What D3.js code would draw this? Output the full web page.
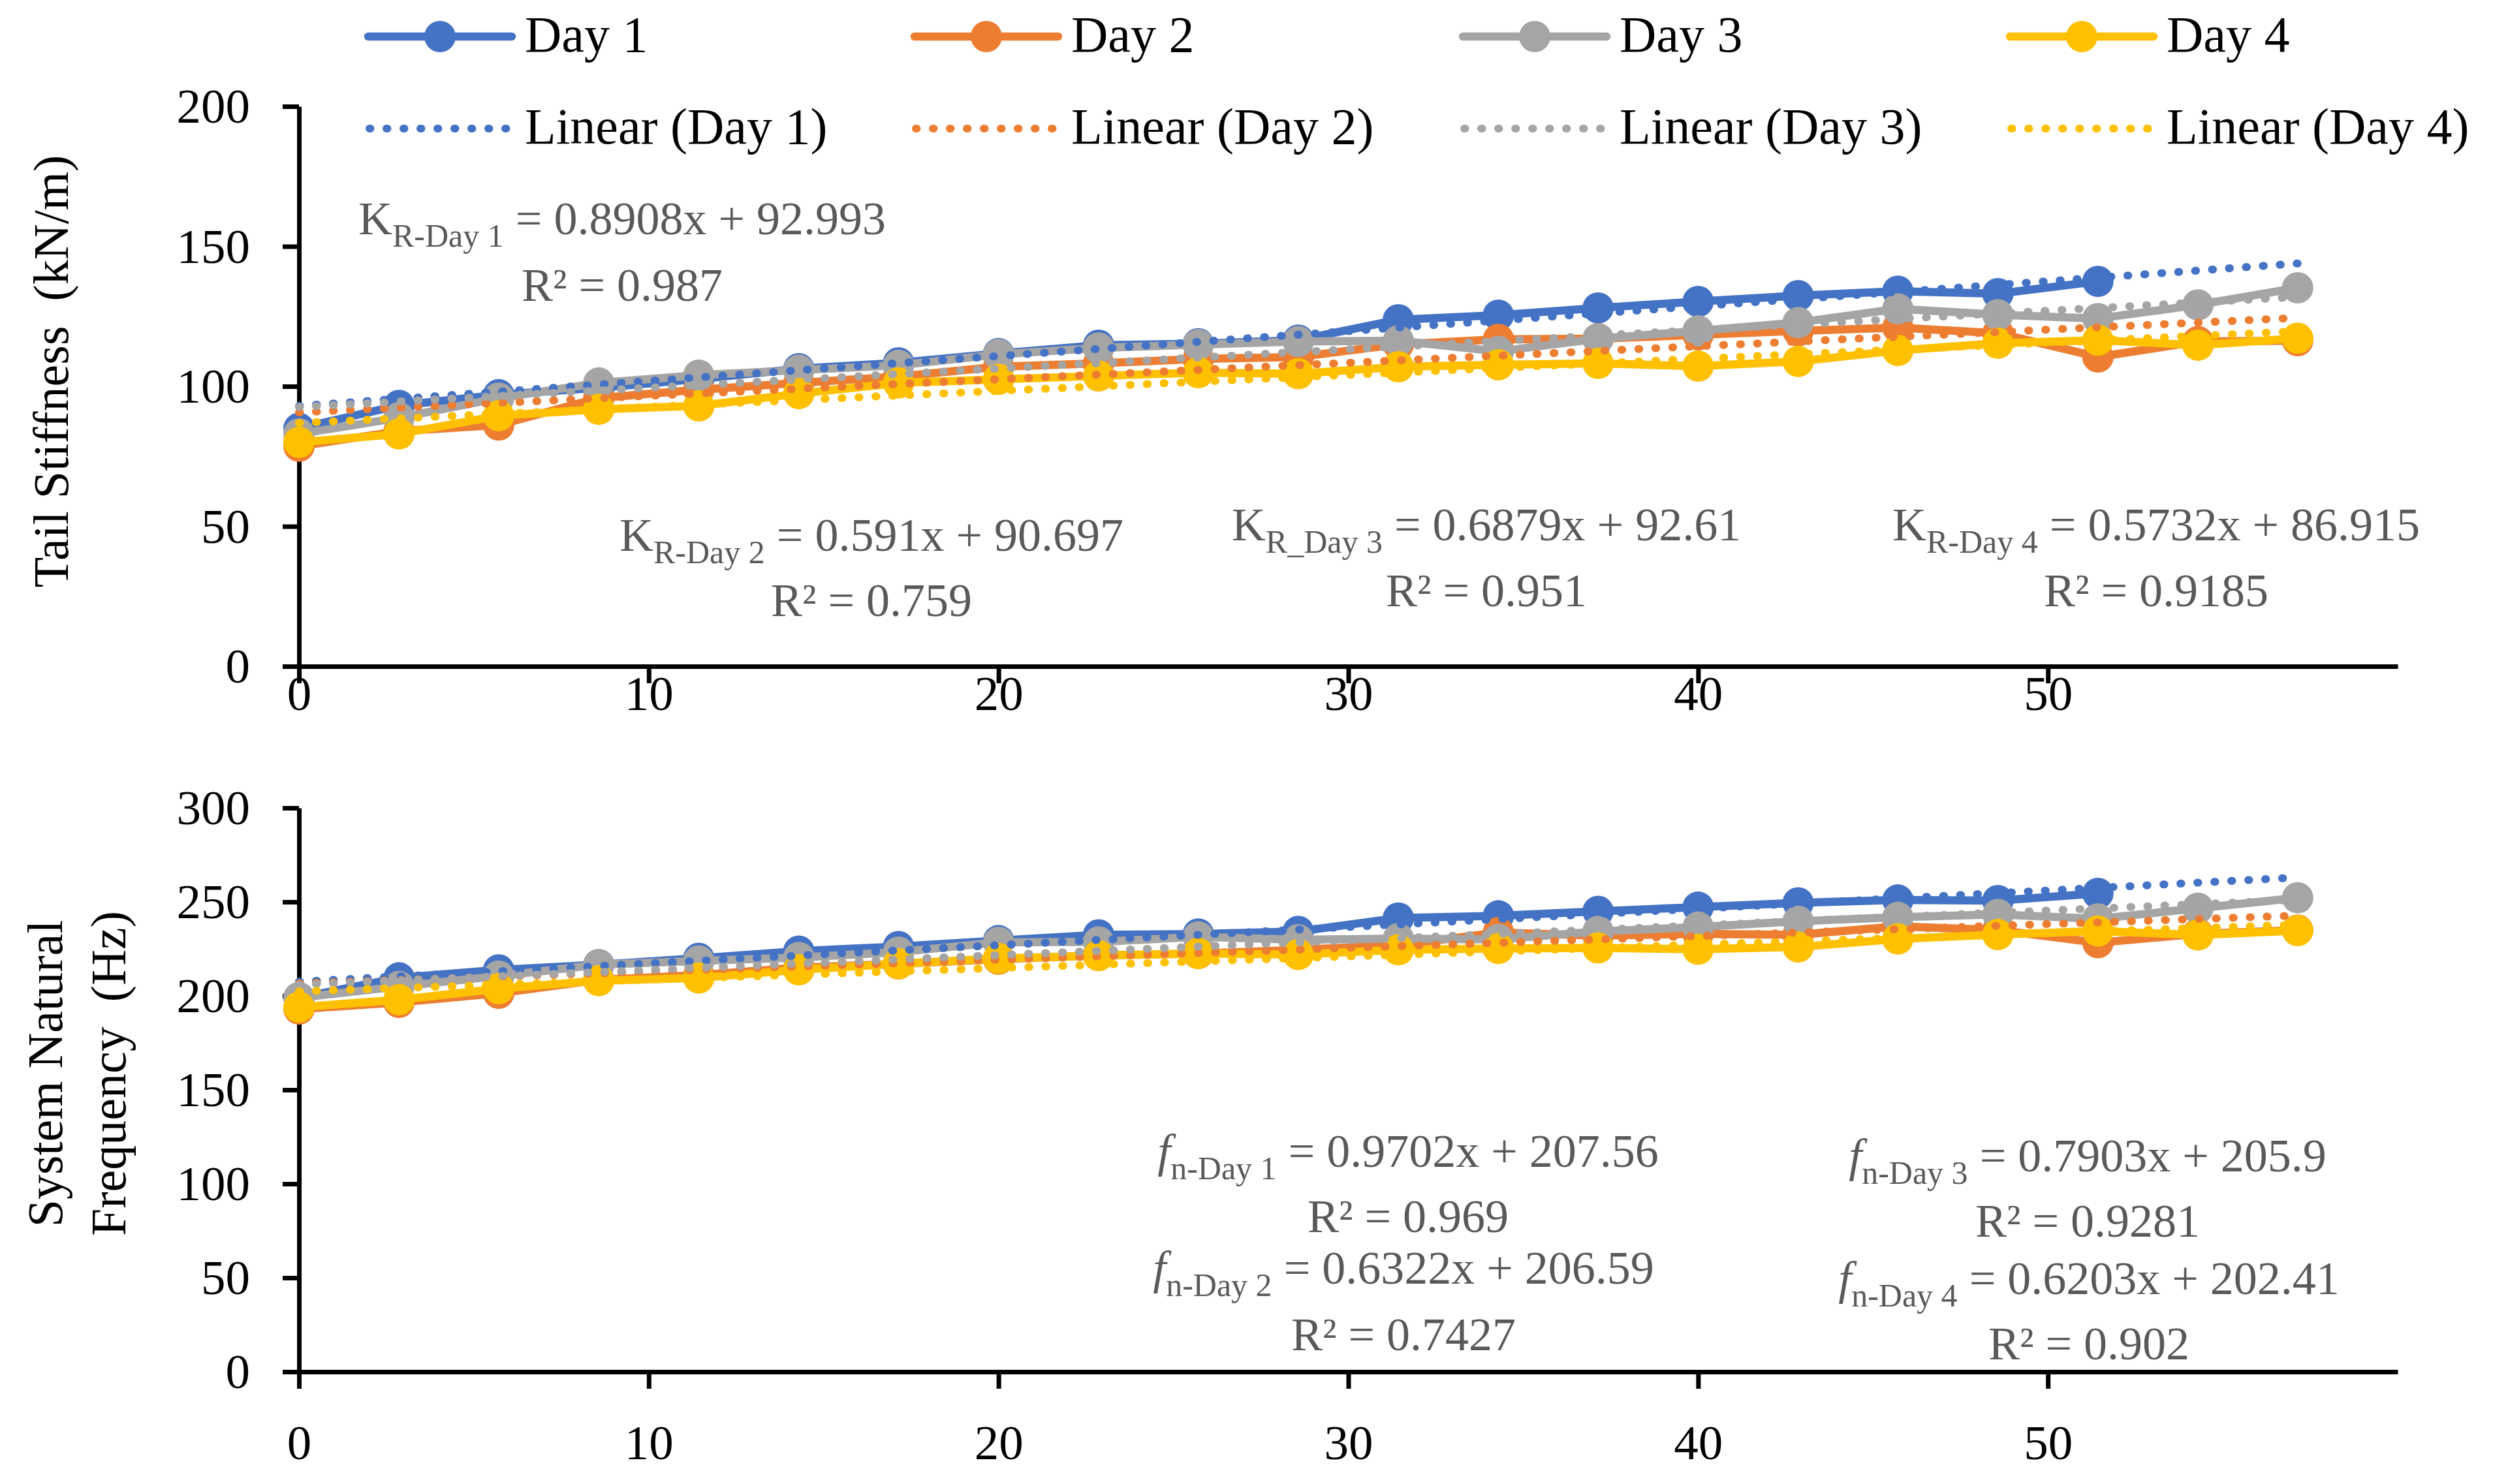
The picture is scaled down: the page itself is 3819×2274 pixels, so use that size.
<!DOCTYPE html>
<html>
<head>
<meta charset="utf-8">
<script src="https://cdn.jsdelivr.net/npm/d3@7"></script>
<style>
  html, body { margin: 0; padding: 0; background: #fff; }
  svg { display: block; font-family: 'Liberation Serif', 'Times New Roman', serif; }
</style>
</head>
<body>
<script>
// DATA //

// x positions of the measurements
var xValues = [0, 2.86, 5.71, 8.57, 11.43, 14.29, 17.14, 20, 22.86, 25.71, 28.57,
  31.43, 34.29, 37.14, 40, 42.86, 45.71, 48.57, 51.43, 54.29, 57.14];

var seriesNames = ['Day 1', 'Day 2', 'Day 3', 'Day 4'];
var trendNames = ['Linear (Day 1)', 'Linear (Day 2)', 'Linear (Day 3)', 'Linear (Day 4)'];

// Tail stiffness (kN/m)
var day1K = [85, 93.2, 97.0, 99.5, 102.6, 106.3, 108.4, 111.7, 114.7, 115.2, 116.5,
  123.8, 125.4, 128.0, 130.3, 132.4, 134.0, 133.1, 137.5];
var day2K = [78.6, 84, 86.2, 95.8, 98.8, 101.2, 103.5, 107, 108.2, 109.8, 110.5,
  115, 116.8, 117, 118.4, 119.8, 121, 119, 110.5, 116, 116.3];
var day3K = [83, 88.8, 95.8, 101.2, 104, 105.8, 107.5, 111.4, 113.7, 114.9, 116,
  116.3, 112.5, 117, 119.8, 122.8, 127.7, 125.6, 124.2, 129.1, 135.2];
var day4K = [80, 83, 89.5, 91.8, 93, 97.4, 101.2, 102.5, 103.7, 104.9, 104.5,
  107, 107.7, 108.2, 107.2, 108.9, 112.8, 115.4, 116.5, 114.7, 117.2];

// System natural frequency (Hz)
var day1F = [199, 209.6, 213.8, 216.6, 220, 223.8, 226.2, 229.4, 232.5, 232.9, 234.3,
  241.4, 242.6, 245, 247.2, 249.5, 251, 250.7, 254.5];
var day2F = [193, 196.5, 201.4, 208.5, 211, 215, 217, 219.5, 221.5, 222.5, 224.5,
  227, 233.7, 232, 233, 232.5, 237, 235, 228.3, 233, 235];
var day3F = [199, 205, 210.5, 216.6, 218.6, 220.4, 223.3, 228.5, 228.7, 231.4, 229.9,
  230.5, 230, 234.3, 236.6, 239.7, 241.8, 243.3, 241, 246.6, 252.2];
var day4F = [194, 197.9, 203.8, 208.1, 209.5, 213.9, 217.1, 219.9, 221.4, 222.6, 222,
  224.5, 225.2, 225.5, 224.8, 226, 230.3, 232.6, 234.5, 232.4, 234.7];

// linear trend lines (slope, intercept) as printed on the chart
var slopeK = [0.8908, 0.591, 0.6879, 0.5732];
var interceptK = [92.993, 90.697, 92.61, 86.915];
var slopeF = [0.9702, 0.6322, 0.7903, 0.6203];
var interceptF = [207.56, 206.59, 205.9, 202.41];
var trendXRange = [0, 57.14];

// tick labels
var xTicks = [0, 10, 20, 30, 40, 50];
var yTicksK = [0, 50, 100, 150, 200];
var yTicksF = [0, 50, 100, 150, 200, 250, 300];

// equation labels
var eqBaseK = 'K', eqBaseF = 'f';
var eqSubK = ['R-Day 1', 'R-Day 2', 'R_Day 3', 'R-Day 4'];
var eqRestK = [' = 0.8908x + 92.993', ' = 0.591x + 90.697', ' = 0.6879x + 92.61', ' = 0.5732x + 86.915'];
var r2K = ['R\u00b2 = 0.987', 'R\u00b2 = 0.759', 'R\u00b2 = 0.951', 'R\u00b2 = 0.9185'];
var eqSubF = ['n-Day 1', 'n-Day 2', 'n-Day 3', 'n-Day 4'];
var eqRestF = [' = 0.9702x + 207.56', ' = 0.6322x + 206.59', ' = 0.7903x + 205.9', ' = 0.6203x + 202.41'];
var r2F = ['R\u00b2 = 0.969', 'R\u00b2 = 0.7427', 'R\u00b2 = 0.9281', 'R\u00b2 = 0.902'];


// LAYOUT //

var W = 3819, H = 2274;
var colors = ['#4472C4', '#ED7D31', '#A5A5A5', '#FFC000'];
var eqColor = '#595959';
var LINE_W = 12.5, DOT_R = 24, TREND_W = 12;

// equation anchor points [x, baseline of equation, baseline of R2]
var eqPosK = [[953, 359, 461], [1335, 844, 944], [2277, 828, 929], [3303, 828, 929]];
var eqPosF = [[2157, 1788, 1888], [2150, 1967, 2069], [3198, 1795, 1895], [3200, 1983, 2083]];

var svg = d3.select('body').append('svg')
  .attr('width', W)
  .attr('height', H)
  .attr('viewBox', '0 0 ' + W + ' ' + H);

svg.append('rect').attr('width', W).attr('height', H).attr('fill', '#fff');

var x = d3.scaleLinear().domain([0, 60]).range([458, 3673]);
var yK = d3.scaleLinear().domain([0, 200]).range([1021, 163]);
var yF = d3.scaleLinear().domain([0, 300]).range([2102, 1238]);


// PANEL //

function panel(y, yTicks, series, slopes, intercepts, labelY) {
  var g = svg.append('g');

  // y axis
  var ya = g.append('g')
    .attr('transform', 'translate(' + x(0) + ',0)')
    .call(d3.axisLeft(y).tickValues(yTicks).tickSizeInner(25).tickSizeOuter(0).tickPadding(50));

  // x axis
  var xa = g.append('g')
    .attr('transform', 'translate(0,' + y(0) + ')')
    .call(d3.axisBottom(x).tickValues(xTicks).tickSizeInner(26).tickSizeOuter(0).tickPadding(10));

  [ya, xa].forEach(function (a) {
    a.select('.domain').attr('stroke', '#000').attr('stroke-width', 7);
    a.selectAll('.tick line').attr('stroke', '#000').attr('stroke-width', 7);
    a.selectAll('.tick text')
      .attr('fill', '#000')
      .style('font-size', '75px')
      .style('font-family', "'Liberation Serif', serif");
  });
  ya.selectAll('.tick text').attr('dy', '0.33em');
  xa.selectAll('.tick text').attr('y', labelY - y(0)).attr('dy', 0);

  var line = d3.line()
    .x(function (d, i) { return x(xValues[i]); })
    .y(function (d) { return y(d); });

  // data series
  series.forEach(function (vals, s) {
    var sg = g.append('g');
    sg.append('path')
      .attr('d', line(vals))
      .attr('fill', 'none')
      .attr('stroke', colors[s])
      .attr('stroke-width', LINE_W)
      .attr('stroke-linejoin', 'round')
      .attr('stroke-linecap', 'round');
    sg.selectAll('circle')
      .data(vals)
      .enter().append('circle')
      .attr('cx', function (d, i) { return x(xValues[i]); })
      .attr('cy', function (d) { return y(d); })
      .attr('r', DOT_R)
      .attr('fill', colors[s]);
  });

  // trend lines
  slopes.forEach(function (m, s) {
    g.append('line')
      .attr('x1', x(trendXRange[0]))
      .attr('y1', y(m * trendXRange[0] + intercepts[s]))
      .attr('x2', x(trendXRange[1]))
      .attr('y2', y(m * trendXRange[1] + intercepts[s]))
      .attr('stroke', colors[s])
      .attr('stroke-width', TREND_W)
      .attr('stroke-linecap', 'round')
      .attr('stroke-dasharray', '1.5 24.5');
  });
  return g;
}

panel(yK, yTicksK, [day1K, day2K, day3K, day4K], slopeK, interceptK, 1088);
panel(yF, yTicksF, [day1F, day2F, day3F, day4F], slopeF, interceptF, 2236);


// EQUATIONS //

function equation(pos, base, sub, rest, r2, italic) {
  var t = svg.append('text')
    .attr('x', pos[0])
    .attr('y', pos[1])
    .attr('text-anchor', 'middle')
    .attr('fill', eqColor)
    .style('font-size', '72px');
  t.append('tspan').text(base).style('font-style', italic ? 'italic' : 'normal');
  t.append('tspan').attr('dy', 19).style('font-size', '50px').text(sub);
  t.append('tspan').attr('dy', -19).text(rest);

  svg.append('text')
    .attr('x', pos[0])
    .attr('y', pos[2])
    .attr('text-anchor', 'middle')
    .attr('fill', eqColor)
    .style('font-size', '72px')
    .text(r2);
}

eqPosK.forEach(function (p, i) { equation(p, eqBaseK, eqSubK[i], eqRestK[i], r2K[i], false); });
eqPosF.forEach(function (p, i) { equation(p, eqBaseF, eqSubF[i], eqRestF[i], r2F[i], true); });


// AXIS TITLES //

svg.append('text')
  .attr('transform', 'translate(104,569) rotate(-90)')
  .attr('text-anchor', 'middle')
  .attr('fill', '#000')
  .style('font-size', '76px')
  .style('white-space', 'pre')
  .text('Tail Stiffness  (kN/m)');

svg.append('text')
  .attr('transform', 'translate(95,1645) rotate(-90)')
  .attr('text-anchor', 'middle')
  .attr('fill', '#000')
  .style('font-size', '76px')
  .text('System Natural');

svg.append('text')
  .attr('transform', 'translate(192,1645) rotate(-90)')
  .attr('text-anchor', 'middle')
  .attr('fill', '#000')
  .style('font-size', '76px')
  .style('white-space', 'pre')
  .text('Frequency  (Hz)');


// LEGEND //

var legendX = [564, 1401, 2241, 3079];
var legendRowY = [56, 197];

var lg = svg.append('g');
seriesNames.forEach(function (name, i) {
  var x0 = legendX[i];
  lg.append('line')
    .attr('x1', x0).attr('x2', x0 + 220)
    .attr('y1', legendRowY[0]).attr('y2', legendRowY[0])
    .attr('stroke', colors[i]).attr('stroke-width', LINE_W).attr('stroke-linecap', 'round');
  lg.append('circle')
    .attr('cx', x0 + 110).attr('cy', legendRowY[0]).attr('r', DOT_R)
    .attr('fill', colors[i]);
  lg.append('text')
    .attr('x', x0 + 240).attr('y', legendRowY[0] + 23)
    .attr('fill', '#000').style('font-size', '78px')
    .text(name);

  lg.append('line')
    .attr('x1', x0 + 2).attr('x2', x0 + 212)
    .attr('y1', legendRowY[1]).attr('y2', legendRowY[1])
    .attr('stroke', colors[i]).attr('stroke-width', TREND_W)
    .attr('stroke-linecap', 'round').attr('stroke-dasharray', '1.5 24.5');
  lg.append('text')
    .attr('x', x0 + 240).attr('y', legendRowY[1] + 23)
    .attr('fill', '#000').style('font-size', '78px')
    .text(trendNames[i]);
});
</script>
</body>
</html>
